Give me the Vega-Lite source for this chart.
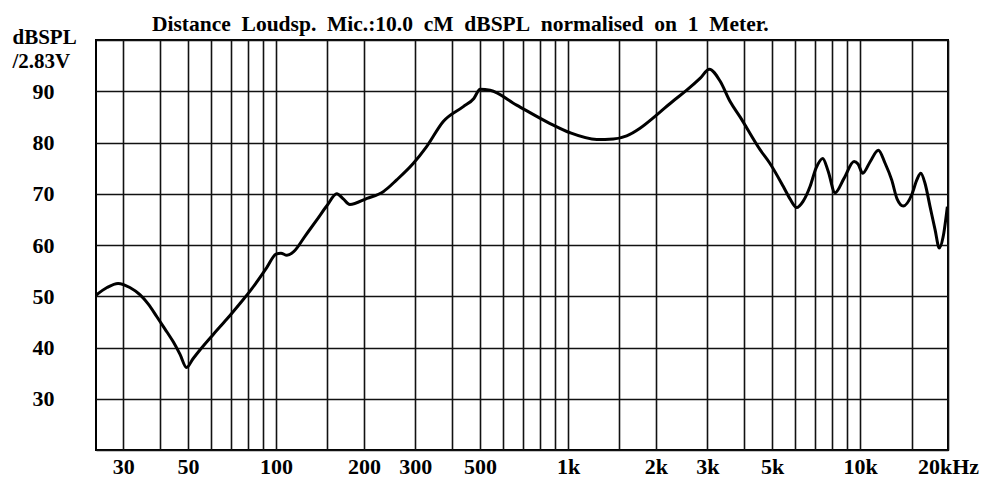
{
  "$schema": "https://vega.github.io/schema/vega-lite/v6.json",
  "autosize": "none",
  "width": 852,
  "height": 410,
  "padding": {"left": 96, "top": 40, "right": 39, "bottom": 29},
  "background": "white",
  "title": {
    "text": "Distance\u00a0 Loudsp.\u00a0 Mic.:10.0\u00a0 cM\u00a0 dBSPL\u00a0 normalised\u00a0 on\u00a0 1\u00a0 Meter.",
    "anchor": "start",
    "frame": "group",
    "dx": 56,
    "offset": -26,
    "font": "Liberation Serif",
    "fontSize": 21.5,
    "fontWeight": "bold",
    "baseline": "alphabetic",
    "color": "black"
  },
  "config": {
    "view": {"stroke": "black", "strokeWidth": 2},
    "axis": {
      "grid": true,
      "gridColor": "#111",
      "gridWidth": 1.6,
      "gridOpacity": 1,
      "ticks": false,
      "domain": false,
      "labelFont": "Liberation Serif",
      "labelFontWeight": "bold",
      "labelFontSize": 22,
      "labelColor": "black",
      "labelOverlap": false,
      "labelBound": false,
      "labelFlush": false
    }
  },
  "data": {
    "values": [
      {"f": 24.2, "db": 50.2}, {"f": 26.4, "db": 51.7}, {"f": 28.8, "db": 52.5}, {"f": 31.6, "db": 51.7},
      {"f": 34.2, "db": 50.3}, {"f": 36.5, "db": 48.5}, {"f": 39.1, "db": 46.0}, {"f": 41.7, "db": 43.6},
      {"f": 44.5, "db": 41.1}, {"f": 46.9, "db": 38.7}, {"f": 49.4, "db": 36.1}, {"f": 52, "db": 37.8},
      {"f": 54.9, "db": 39.5}, {"f": 60.9, "db": 42.5}, {"f": 67.8, "db": 45.5}, {"f": 75.3, "db": 48.6},
      {"f": 81.5, "db": 51.0}, {"f": 93, "db": 55.6}, {"f": 100, "db": 58.2}, {"f": 104, "db": 58.4},
      {"f": 109, "db": 58.0}, {"f": 115, "db": 58.7}, {"f": 126, "db": 61.8}, {"f": 138, "db": 64.9},
      {"f": 150, "db": 67.8}, {"f": 161.5, "db": 70.0}, {"f": 170, "db": 69.0}, {"f": 179, "db": 67.9},
      {"f": 205, "db": 69.1}, {"f": 233, "db": 70.4}, {"f": 259, "db": 72.7}, {"f": 295, "db": 75.9},
      {"f": 328, "db": 79.2}, {"f": 374, "db": 84.1}, {"f": 438, "db": 87.0}, {"f": 476, "db": 88.6},
      {"f": 500, "db": 90.4}, {"f": 541, "db": 90.2}, {"f": 667, "db": 87.3}, {"f": 868, "db": 83.7},
      {"f": 1016, "db": 81.9}, {"f": 1254, "db": 80.6}, {"f": 1429, "db": 80.7}, {"f": 1588, "db": 81.3},
      {"f": 1764, "db": 82.8}, {"f": 2013, "db": 85.4}, {"f": 2280, "db": 88.0}, {"f": 2549, "db": 90.2},
      {"f": 2831, "db": 92.5}, {"f": 3047, "db": 94.3}, {"f": 3315, "db": 92.0}, {"f": 3589, "db": 88.0},
      {"f": 3882, "db": 85.0}, {"f": 4544, "db": 78.6}, {"f": 4915, "db": 75.9}, {"f": 5460, "db": 71.4},
      {"f": 5756, "db": 69.0}, {"f": 6067, "db": 67.3}, {"f": 6379, "db": 68.5}, {"f": 6740, "db": 71.4},
      {"f": 7067, "db": 75.0}, {"f": 7449, "db": 76.9}, {"f": 7766, "db": 74.5}, {"f": 8208, "db": 70.2},
      {"f": 8810, "db": 73.0}, {"f": 9535, "db": 76.3}, {"f": 9838, "db": 75.8}, {"f": 10210, "db": 74.0},
      {"f": 10813, "db": 76.2}, {"f": 11548, "db": 78.5}, {"f": 12170, "db": 76.0}, {"f": 12830, "db": 72.7},
      {"f": 13384, "db": 69.0}, {"f": 14065, "db": 67.6}, {"f": 15026, "db": 69.8}, {"f": 15669, "db": 72.8},
      {"f": 16140, "db": 74.0}, {"f": 16690, "db": 72.0}, {"f": 17361, "db": 67.5}, {"f": 18061, "db": 63.0},
      {"f": 18678, "db": 59.4}, {"f": 19232, "db": 61.5}, {"f": 19900, "db": 67.5}
    ]
  },
  "mark": {"type": "line", "color": "black", "strokeWidth": 3, "interpolate": "monotone", "clip": true},
  "encoding": {
    "x": {
      "field": "f",
      "type": "quantitative",
      "scale": {"type": "log", "domain": [24.2, 20000], "nice": false},
      "axis": {
        "title": null,
        "values": [30, 40, 50, 60, 70, 80, 90, 100, 150, 200, 300, 400, 500, 600, 700, 800, 900, 1000, 1500, 2000, 3000, 4000, 5000, 6000, 7000, 8000, 9000, 10000, 15000, 20000],
        "labelPadding": 6,
        "labelBaseline": "top",
        "labelExpr": "datum.value==30?'30':datum.value==50?'50':datum.value==100?'100':datum.value==200?'200':datum.value==300?'300':datum.value==500?'500':datum.value==1000?'1k':datum.value==2000?'2k':datum.value==3000?'3k':datum.value==5000?'5k':datum.value==10000?'10k':datum.value==20000?'20kHz':''"
      }
    },
    "y": {
      "field": "db",
      "type": "quantitative",
      "scale": {"domain": [20, 100], "nice": false, "zero": false},
      "axis": {
        "values": [20, 30, 40, 50, 60, 70, 80, 90, 100],
        "labelPadding": 42,
        "labelExpr": "datum.value>=30 && datum.value<=90 ? datum.label : ''",
        "title": ["dBSPL", "/2.83V"],
        "titleAngle": 0,
        "titleAlign": "left",
        "titleBaseline": "alphabetic",
        "titleX": -84,
        "titleY": 3,
        "titleLineHeight": 24,
        "titleFont": "Liberation Serif",
        "titleFontWeight": "bold",
        "titleFontSize": 21,
        "titleColor": "black"
      }
    }
  }
}
